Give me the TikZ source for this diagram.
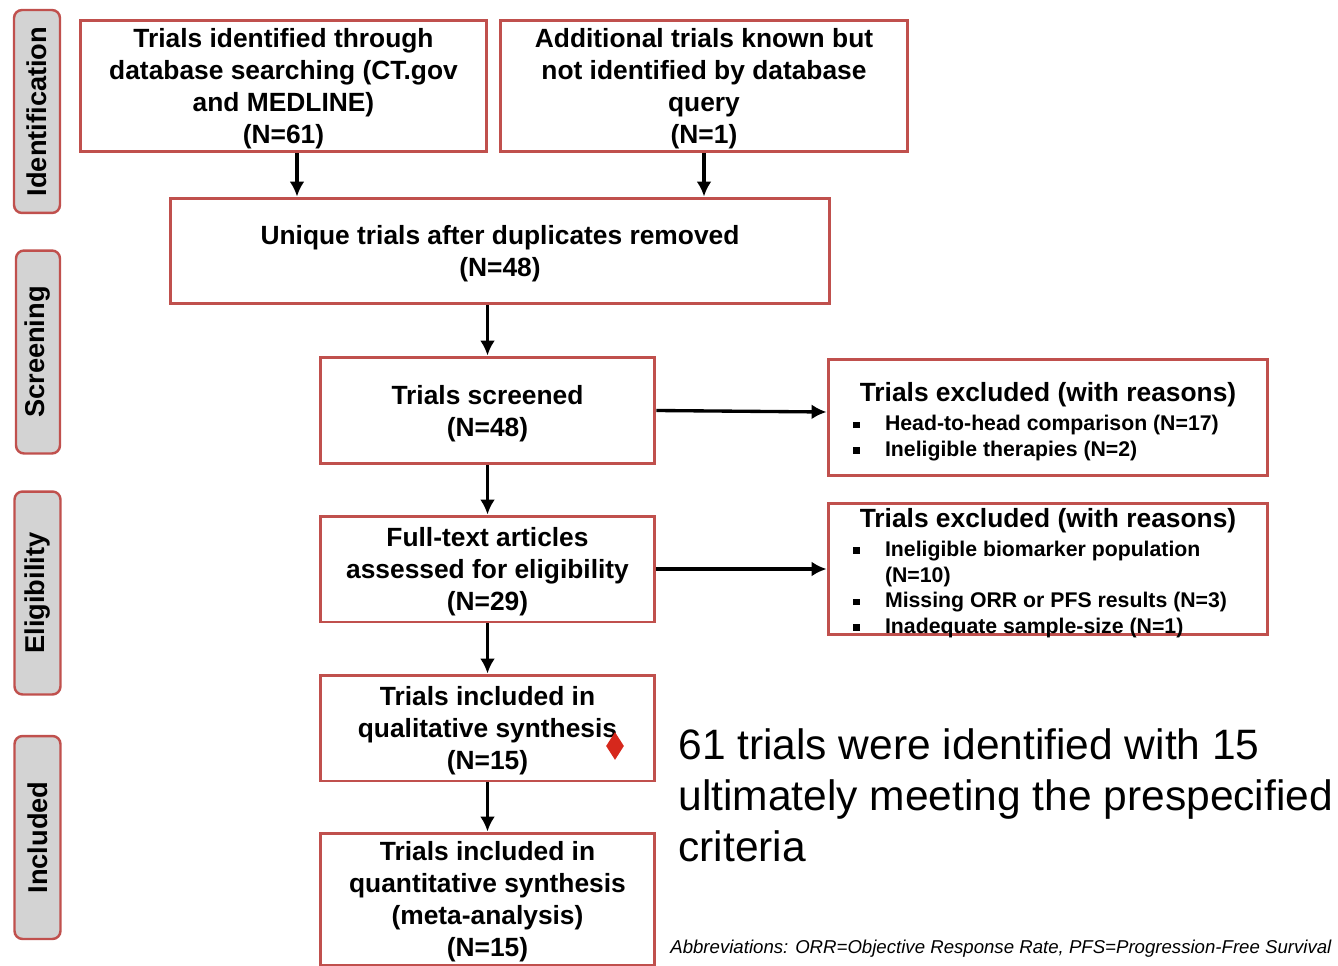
\documentclass[tikz,border=0pt]{standalone}
\usepackage{fontspec}
\setmainfont{Liberation Sans}
\usepackage{tikz}
\usetikzlibrary{arrows.meta,positioning,shapes.geometric}

\definecolor{boxred}{RGB}{192,80,77}
\definecolor{stagegray}{RGB}{211,211,211}
\definecolor{markred}{RGB}{214,40,28}
\newcommand{\bitem}[1]{\hspace*{0.1cm}\makebox[0.64cm][l]{\rule[0.05cm]{0.13cm}{0.13cm}}#1}

\begin{document}
\begin{tikzpicture}[
  x=0.02cm, y=-0.02cm,
  procbox/.style={draw=boxred, line width=1.7pt, align=center, inner sep=0pt, text depth=-1.4pt, font=\fontsize{15}{18.2}\selectfont\bfseries},
  exclbox/.style={draw=boxred, line width=1.7pt, align=flush left, text width=8.0cm, inner xsep=0.4cm, inner ysep=0pt, font=\fontsize{15}{18.2}\selectfont\bfseries},
  stage/.style={draw=boxred, line width=1.4pt, fill=stagegray, rounded corners=0.16cm, rotate=90, minimum width=4.06cm, minimum height=0.92cm, font=\fontsize{15.5}{18}\selectfont\bfseries},
  arrow/.style={-{Latex[length=0.3cm,width=0.3cm]}, line width=1.9pt}
]
\useasboundingbox (0,0) rectangle (1338,966);

% stage labels
\node[stage] (idstage) at (37,111.5) {Identification};
\node[stage, minimum height=0.88cm] (scrstage) at (38,352) {Screening};
\node[stage] (elstage) at (37.5,593) {Eligibility};
\node[stage] (instage) at (37.5,837.5) {Included};

% flow boxes
\node[procbox, minimum width=8.14cm, minimum height=2.64cm] (found) at (283.5,86) {Trials identified through\\database searching (CT.gov\\and MEDLINE)\\(N=61)};
\node[procbox, minimum width=8.16cm, minimum height=2.64cm] (extra) at (704,86) {Additional trials known but\\not identified by database\\query\\(N=1)};
\node[procbox, minimum width=13.2cm, minimum height=2.12cm] (unique) at (500,251) {Unique trials after duplicates removed\\(N=48)};
\node[procbox, minimum width=6.7cm, minimum height=2.14cm] (screened) at (487.5,410.5) {Trials screened\\(N=48)};
\node[procbox, minimum width=6.7cm, minimum height=2.12cm] (fulltext) at (487.5,569) {Full-text articles\\assessed for eligibility\\(N=29)};
\node[procbox, minimum width=6.7cm, minimum height=2.12cm] (qualit) at (487.5,728) {Trials included in\\qualitative synthesis\\(N=15)};
\node[procbox, minimum width=6.7cm, minimum height=2.64cm] (quantit) at (487.5,899) {Trials included in\\quantitative synthesis\\(meta-analysis)\\(N=15)};

% exclusion boxes
\node[exclbox, minimum height=2.34cm, text depth=29.2pt] (excl1) at (1048,417.5) {{\centering Trials excluded (with reasons)\par}\vspace{2pt}
  {\fontsize{12.1}{14.6}\selectfont \bitem{Head-to-head comparison (N=17)}\\
  \bitem{Ineligible therapies (N=2)}\par}};
\node[exclbox, minimum height=2.64cm, text depth=58.4pt] (excl2) at (1048,569) {{\centering Trials excluded (with reasons)\par}\vspace{2pt}
  {\fontsize{12.1}{14.6}\selectfont \bitem{Ineligible biomarker population}\\
  \hspace*{0.74cm}(N=10)\\
  \bitem{Missing ORR or PFS results (N=3)}\\
  \bitem{Inadequate sample-size (N=1)}\par}};

\node[diamond, fill=markred, inner sep=0pt, minimum width=0.36cm, minimum height=0.56cm] (mark) at (615,746) {};

% notes
\node[anchor=north west, align=left, inner sep=0pt, font=\fontsize{24.2}{29}\selectfont] (summary) at (678,728) {61 trials were identified with 15\\ultimately meeting the prespecified\\criteria};
\node[anchor=base west, inner sep=0pt, font=\fontsize{10.6}{12}\selectfont\itshape] (abbrev) at (670,953) {Abbreviations: ORR=Objective Response Rate, PFS=Progression-Free Survival};

% connectors
\draw[arrow] ([xshift=0.27cm]found.south) -- ([xshift=0.27cm]found.south |- unique.north);
\draw[arrow] (extra.south) -- (extra.south |- unique.north);
\draw[arrow] (unique.south -| screened.north) -- (screened.north);
\draw[arrow] (screened.east) -- ([yshift=0.11cm]excl1.west);
\draw[arrow] (screened.south) -- (fulltext.north);
\draw[arrow] (fulltext.east) -- (excl2.west);
\draw[arrow] (fulltext.south) -- (qualit.north);
\draw[arrow] (qualit.south) -- (quantit.north);
\end{tikzpicture}
\end{document}
